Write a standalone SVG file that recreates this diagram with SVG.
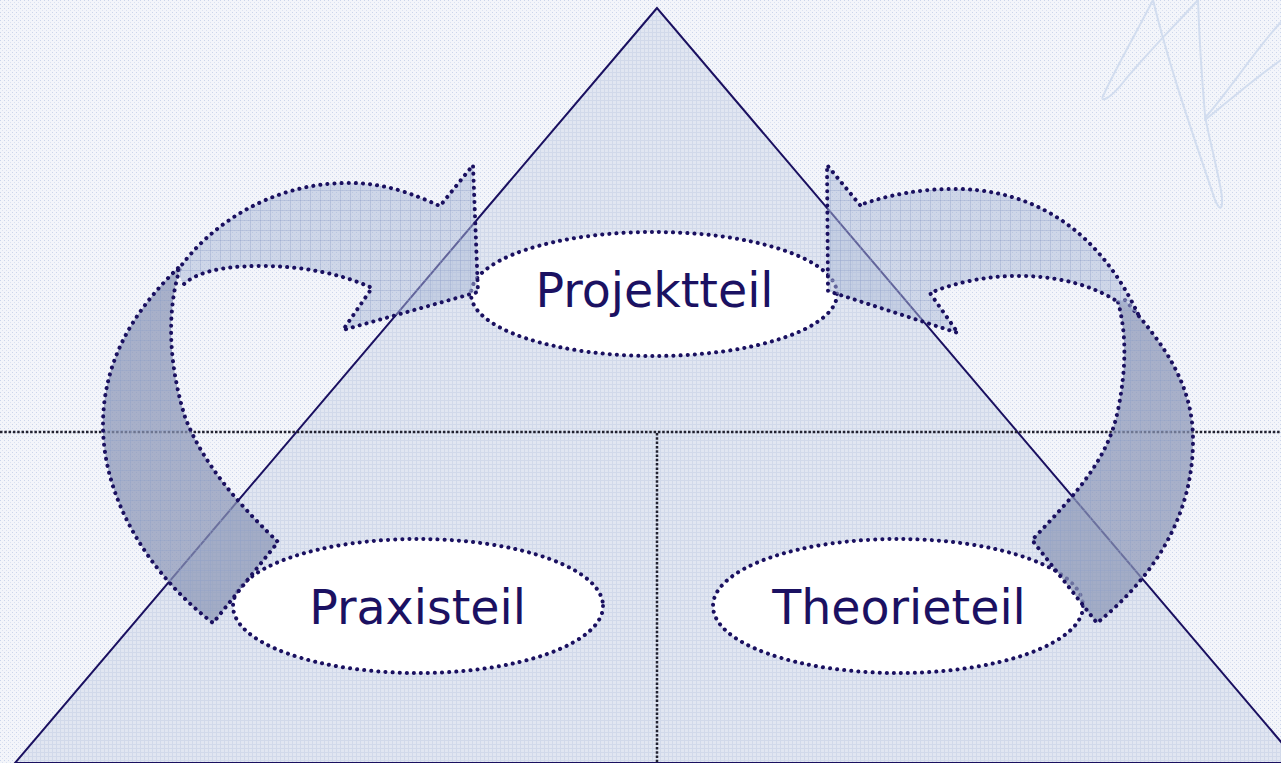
<svg xmlns="http://www.w3.org/2000/svg" width="1281" height="763" viewBox="0 0 1281 763">
<defs>
<pattern id="bg" width="4" height="4" patternUnits="userSpaceOnUse"><rect width="4" height="4" fill="#f3f5fa"/><rect width="1" height="1" fill="#cbd5eb"/><rect x="2" y="2" width="1" height="1" fill="#dbe2f1"/></pattern>
<pattern id="tri" width="4" height="4" patternUnits="userSpaceOnUse"><rect width="4" height="4" fill="#e1e6f1"/><rect width="4" height="1" fill="#d1d9ea"/><rect width="1" height="4" fill="#d1d9ea"/></pattern>
<pattern id="grid" width="10" height="10" patternUnits="userSpaceOnUse"><rect width="10" height="1" fill="#8e9fc8" opacity="0.35"/><rect width="1" height="10" fill="#8e9fc8" opacity="0.35"/></pattern>
<style>
.dot{fill:none;stroke:#1a1060;stroke-width:4;stroke-linecap:round;stroke-dasharray:0.1 7}
.ell{fill:#ffffff}
.light{fill:#a9b7d6;fill-opacity:0.5}
.dark{fill:#8a96b5;fill-opacity:0.72}
.lbl{font-family:"DejaVu Sans",Verdana,sans-serif;font-size:47.5px;fill:#1b1162;text-anchor:middle}
.guide{stroke:#222230;stroke-width:2.5;stroke-dasharray:2.5 1.8;fill:none}
.scr{fill:none;stroke:#d2ddef;stroke-width:2;stroke-linecap:round}
</style>
</defs>
<rect width="1281" height="763" fill="url(#bg)"/>
<g id="scribble">
<path class="scr" d="M1153,0 C1135,35 1115,70 1104,94 C1098,104 1110,100 1125,80 C1150,50 1180,20 1198,0"/>
<path class="scr" d="M1153,0 C1170,70 1195,140 1215,200 C1222,216 1224,205 1220,185 C1213,150 1206,125 1205,115 C1202,80 1199,30 1198,0"/>
<path class="scr" d="M1205,118 C1230,90 1255,50 1281,22"/>
<path class="scr" d="M1205,120 C1230,100 1255,78 1281,60"/>
</g>
<g id="triangle">
<polygon points="657,8 15,763 1299,763" fill="url(#tri)" stroke="#1a1060" stroke-width="2"/>
</g>
<g id="guides">
<line class="guide" x1="0" y1="432" x2="1281" y2="432"/>
<line class="guide" x1="657" y1="433" x2="657" y2="763"/>
</g>
<g id="node-projektteil">
<ellipse class="ell" cx="654" cy="294" rx="183" ry="62"/>
<ellipse class="dot" cx="654" cy="294" rx="183" ry="62"/>
</g>
<g id="node-praxisteil">
<ellipse class="ell" cx="418" cy="606" rx="185" ry="67"/>
<ellipse class="dot" cx="418" cy="606" rx="185" ry="67"/>
</g>
<g id="node-theorieteil">
<ellipse class="ell" cx="898" cy="606" rx="185" ry="67"/>
<ellipse class="dot" cx="898" cy="606" rx="185" ry="67"/>
</g>
<g id="connectors">
<g id="arrow-left">
<path class="dark" d="M178,268 C140,305 103,355 103,425 C103,500 150,575 213,623 L278,542 C250,515 205,470 185,417 C172,375 164,320 180,268 Z"/>
<path fill="url(#grid)" d="M178,268 C140,305 103,355 103,425 C103,500 150,575 213,623 L278,542 C250,515 205,470 185,417 C172,375 164,320 180,268 Z"/>
<path class="dot" d="M178,268 C140,305 103,355 103,425 C103,500 150,575 213,623 L278,542 C250,515 205,470 185,417 C172,375 164,320 180,268"/>
<path class="light" d="M178,270 C210,225 270,184 345,183 C385,182 415,195 440,206 L473,165 L478,292 L343,330 L372,288 C340,273 300,266 260,266 C220,266 195,273 183,285 Z"/>
<path fill="url(#grid)" d="M178,270 C210,225 270,184 345,183 C385,182 415,195 440,206 L473,165 L478,292 L343,330 L372,288 C340,273 300,266 260,266 C220,266 195,273 183,285 Z"/>
<path class="dot" d="M178,270 C210,225 270,184 345,183 C385,182 415,195 440,206 L473,165 L478,292 L343,330 L372,288 C340,273 300,266 260,266 C220,266 195,273 183,285"/>
</g>
<g id="arrow-right">
<path class="dark" d="M1125,300 C1165,345 1193,385 1193,440 C1193,520 1150,580 1097,623 L1032,540 C1075,495 1108,460 1118,410 C1126,370 1127,335 1118,302 Z"/>
<path fill="url(#grid)" d="M1125,300 C1165,345 1193,385 1193,440 C1193,520 1150,580 1097,623 L1032,540 C1075,495 1108,460 1118,410 C1126,370 1127,335 1118,302 Z"/>
<path class="dot" d="M1125,300 C1165,345 1193,385 1193,440 C1193,520 1150,580 1097,623 L1032,540 C1075,495 1108,460 1118,410 C1126,370 1127,335 1118,302"/>
<path class="light" d="M860,205 L827,165 L828,291 L958,333 L930,293 C990,268 1070,270 1118,302 L1138,314 C1115,265 1065,192 960,189 C920,188 885,196 860,205 Z"/>
<path fill="url(#grid)" d="M860,205 L827,165 L828,291 L958,333 L930,293 C990,268 1070,270 1118,302 L1138,314 C1115,265 1065,192 960,189 C920,188 885,196 860,205 Z"/>
<path class="dot" d="M860,205 L827,165 L828,291 L958,333 L930,293 C990,268 1070,270 1118,302 M1138,314 C1115,265 1065,192 960,189 C920,188 885,196 860,205"/>
</g>
</g>
<g id="labels">
<text class="lbl" x="654.5" y="307">Projektteil</text>
<text class="lbl" x="417.5" y="624">Praxisteil</text>
<text class="lbl" x="899" y="624">Theorieteil</text>
</g>
</svg>
